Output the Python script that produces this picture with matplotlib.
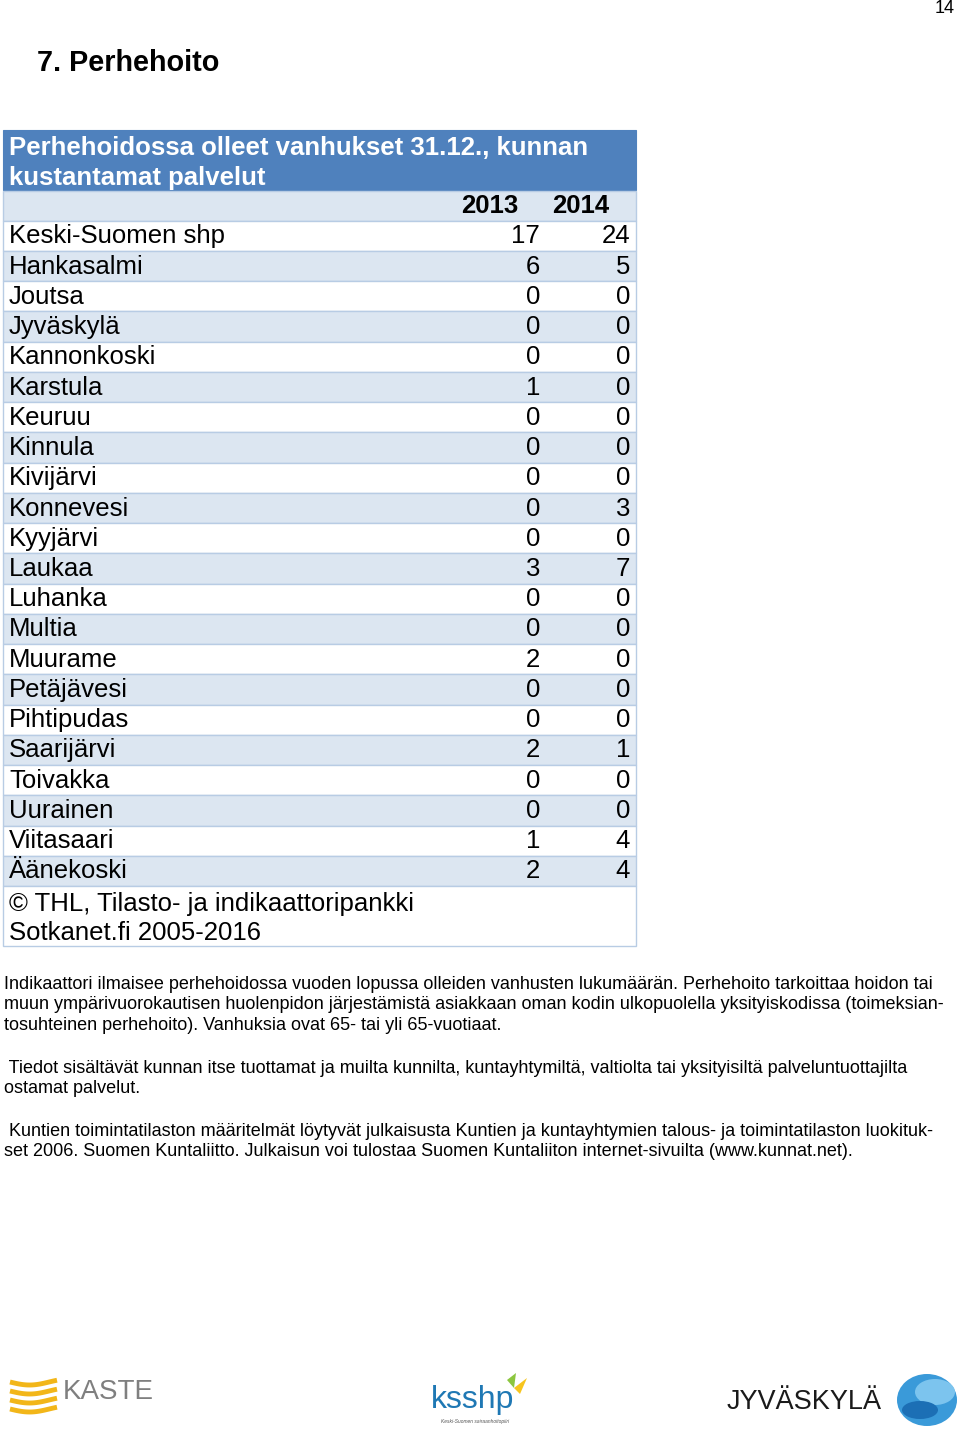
import numpy as np
import matplotlib.pyplot as plt
from matplotlib.patches import Rectangle, Ellipse, Polygon

plt.rcParams['font.family'] = ['Liberation Sans', 'DejaVu Sans']

title = "Perhehoidossa olleet vanhukset 31.12., kunnan\nkustantamat palvelut"
years = ["2013", "2014"]
kunnat = ["Keski-Suomen shp", "Hankasalmi", "Joutsa", "Jyväskylä", "Kannonkoski",
          "Karstula", "Keuruu", "Kinnula", "Kivijärvi", "Konnevesi", "Kyyjärvi",
          "Laukaa", "Luhanka", "Multia", "Muurame", "Petäjävesi", "Pihtipudas",
          "Saarijärvi", "Toivakka", "Uurainen", "Viitasaari", "Äänekoski"]
v2013 = [17, 6, 0, 0, 0, 1, 0, 0, 0, 0, 0, 3, 0, 0, 2, 0, 0, 2, 0, 0, 1, 2]
v2014 = [24, 5, 0, 0, 0, 0, 0, 0, 0, 3, 0, 7, 0, 0, 0, 0, 0, 1, 0, 0, 4, 4]
lahde = "© THL, Tilasto- ja indikaattoripankki\nSotkanet.fi 2005-2016"

notes = [
    "Indikaattori ilmaisee perhehoidossa vuoden lopussa olleiden vanhusten lukumäärän. Perhehoito tarkoittaa hoidon tai\n"
    "muun ympärivuorokautisen huolenpidon järjestämistä asiakkaan oman kodin ulkopuolella yksityiskodissa (toimeksian-\n"
    "tosuhteinen perhehoito). Vanhuksia ovat 65- tai yli 65-vuotiaat.",
    " Tiedot sisältävät kunnan itse tuottamat ja muilta kunnilta, kuntayhtymiltä, valtiolta tai yksityisiltä palveluntuottajilta\n"
    "ostamat palvelut.",
    " Kuntien toimintatilaston määritelmät löytyvät julkaisusta Kuntien ja kuntayhtymien talous- ja toimintatilaston luokituk-\n"
    "set 2006. Suomen Kuntaliitto. Julkaisun voi tulostaa Suomen Kuntaliiton internet-sivuilta (www.kunnat.net).",
]

fig = plt.figure(figsize=(9.6, 14.29), dpi=100)
ax = fig.add_axes([0, 0, 1, 1])
ax.set_xlim(0, 960)
ax.set_ylim(1429, 0)
ax.axis('off')

blue = '#4F81BD'
light = '#DCE6F1'
line = '#B8CCE4'
left, right = 3, 636
rh = 30.24
fs = 18.5

ax.text(955, 8, "14", fontsize=13, ha='right', va='center')
ax.text(37, 63, "7. Perhehoito", fontsize=20.7, fontweight='bold', va='center')

# title band
ax.add_patch(Rectangle((left, 130), right - left, 60, facecolor=blue, edgecolor=blue, lw=0.8))
ax.text(9, 163, title, fontsize=fs, fontweight='bold', color='white', va='center', linespacing=1.3)

# header row
top = 190.5
ax.add_patch(Rectangle((left, top), right - left, rh, facecolor=light, edgecolor=line, lw=1))
ax.text(518, top + rh / 2, years[0], fontsize=fs, fontweight='bold', ha='right', va='center')
ax.text(609, top + rh / 2, years[1], fontsize=fs, fontweight='bold', ha='right', va='center')

for i, (k, a, b) in enumerate(zip(kunnat, v2013, v2014)):
    y0 = top + rh * (i + 1)
    fc = 'white' if i % 2 == 0 else light
    ax.add_patch(Rectangle((left, y0), right - left, rh, facecolor=fc, edgecolor=line, lw=1))
    yc = y0 + rh / 2 + 0.5
    ax.text(9, yc, k, fontsize=fs, va='center')
    ax.text(540, yc, str(a), fontsize=fs, ha='right', va='center')
    ax.text(630, yc, str(b), fontsize=fs, ha='right', va='center')

yf = top + rh * (len(kunnat) + 1)
ax.add_patch(Rectangle((left, yf), right - left, 946 - yf, facecolor='white', edgecolor=line, lw=1))
ax.text(9, (yf + 946) / 2 + 2.5, lahde, fontsize=fs, va='center', linespacing=1.3)

# notes below the table, first line of each block centred on the given y
for txt, y in zip(notes, [982, 1066, 1129]):
    ax.text(4, y - 6, txt, fontsize=13, va='top', linespacing=1.25)

# logos
for j in range(4):
    yy = 1382 + j * 9
    xs = np.linspace(10, 57, 30)
    ax.plot(xs, yy + 3 * np.sin((xs - 10) / 47 * np.pi * 1.2), color='#F2B619', lw=3.5,
            solid_capstyle='butt')
ax.text(63, 1392, "KASTE", fontsize=20, color='#7F7F7F', va='center')

ax.text(431, 1400, "ksshp", fontsize=23, color='#1F78B4', va='center')
ax.add_patch(Polygon([[507, 1380], [516, 1373], [514, 1388]], facecolor='#8CC63F', edgecolor='none'))
ax.add_patch(Polygon([[514, 1388], [527, 1378], [520, 1394]], facecolor='#F7C51E', edgecolor='none'))
ax.text(475, 1421, "Keski-Suomen sairaanhoitopiiri", fontsize=3.5, style='italic',
        color='#555555', ha='center', va='center')

ax.text(727, 1402, "JYVÄSKYLÄ", fontsize=19.5, color='#1A1A1A', va='center')
ax.add_patch(Ellipse((927, 1400), 60, 52, facecolor='#3A9AD9', edgecolor='none'))
ax.add_patch(Ellipse((935, 1392), 40, 26, facecolor='#7CC4EE', edgecolor='none'))
ax.add_patch(Ellipse((920, 1410), 36, 18, facecolor='#1C6FB5', edgecolor='none'))

fig.savefig('out.png', dpi=100)
